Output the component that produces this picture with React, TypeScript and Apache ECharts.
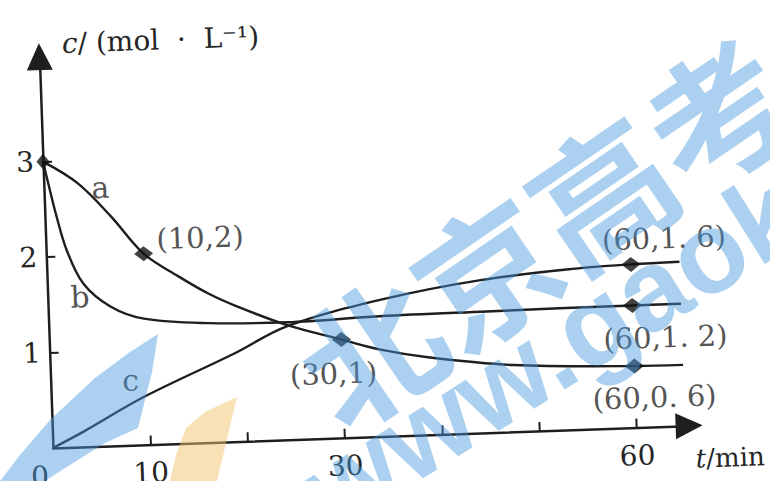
import React, { useEffect, useRef } from "react";
import * as echarts from "echarts";

// ---- data (t in min, c in mol/L) ----
const curveNames = ["a", "b", "c"];
const curveA = [[0, 3], [3.5, 2.76], [6.8, 2.4], [10, 2.0], [13.5, 1.75], [16.5, 1.56], [19.5, 1.41], [24.5, 1.2], [30, 1.03], [34, 0.91], [39, 0.81], [47.6, 0.7], [60, 0.645], [65, 0.64]];
const curveB = [[0, 3], [0.5, 2.75], [1.2, 2.42], [2.1, 2.07], [3.7, 1.71], [6.4, 1.46], [9.8, 1.32], [16.4, 1.25], [24.5, 1.23], [34, 1.26], [45, 1.27], [60, 1.28], [65, 1.28]];
const curveC = [[0, 0], [3.2, 0.16], [9.5, 0.5], [18.9, 0.92], [24.5, 1.19], [34.1, 1.43], [44.5, 1.6], [54.8, 1.69], [60, 1.71], [65, 1.72]];
const curves = [curveA, curveB, curveC];

const markerT = [0, 10, 30, 60, 60, 60];
const markerCurve = [0, 0, 0, 2, 1, 0];
const markerText = ["", "(10,2)", "(30,1)", "(60,1. 6)", "(60,1. 2)", "(60,0. 6)"];

const curveNameAt = [[5.8, 2.71], [3.3, 1.57], [8.2, 0.68]];

const xTicks = [10, 20, 30, 40, 50, 60];
const xLabels = [0, 10, 30, 60];
const yTicks = [1, 2, 3];
const yLabels = [1, 2, 3];
const xMax = 65.4;
const yMax = 4.1;

// ---- styles ----
const FONT = "'DejaVu Serif', 'Liberation Serif', serif";
const INK = "#1e1e1e";
const TXT = "#262626";
const labelOffsets = [[0, 0], [57, -14], [-9, 34], [34, -25], [32, 33], [19, 32]];
const WM_BLUE = "rgba(70,152,222,0.45)";
const WM_ORANGE = "rgba(243,196,110,0.5)";

function lookup(ci: number, t: number): number {
  const p = curves[ci].find((q) => q[0] === t);
  return p ? p[1] : 0;
}

export default function App() {
  const chartRef = useRef<HTMLDivElement>(null);
  const overRef = useRef<HTMLDivElement>(null);

  useEffect(() => {
    if (!chartRef.current || !overRef.current) return;
    const chart = echarts.init(chartRef.current, undefined, { renderer: "svg" });
    const over = echarts.init(overRef.current, undefined, { renderer: "svg" });

    const originX = 53;
    const originY = 448;
    const gw = 636.5;
    const gh = 391.6;

    const lineSeries = curves.map((d, i) => ({
      type: "line",
      name: curveNames[i],
      data: d,
      smooth: 0.35,
      symbol: "none",
      lineStyle: { color: INK, width: 2.4 },
      z: 2,
    }));

    chart.setOption({
      animation: false,
      grid: { left: originX, top: originY - gh, width: gw, height: gh },
      xAxis: {
        type: "value",
        min: 0,
        max: xMax,
        interval: 10,
        splitLine: { show: false },
        axisLine: {
          show: true,
          symbol: ["none", "triangle"],
          symbolSize: [26, 27],
          lineStyle: { color: INK, width: 2.5 },
        },
        axisTick: { show: true, inside: true, length: 9, customValues: xTicks, lineStyle: { color: INK, width: 2 } },
        axisLabel: {
          customValues: xLabels,
          margin: 14,
          fontSize: 28,
          fontFamily: FONT,
          color: TXT,
          formatter: (v: number) => (v === 0 ? "{o|0}" : String(v)),
          rich: { o: { padding: [0, 28, 0, 0], fontSize: 28, fontFamily: FONT, color: TXT } },
        },
      },
      yAxis: {
        type: "value",
        min: 0,
        max: yMax,
        interval: 1,
        splitLine: { show: false },
        axisLine: {
          show: true,
          symbol: ["none", "triangle"],
          symbolSize: [26, 27],
          lineStyle: { color: INK, width: 2.5 },
        },
        axisTick: { show: true, inside: true, length: 9, customValues: yTicks, lineStyle: { color: INK, width: 2 } },
        axisLabel: { customValues: yLabels, margin: 9, fontSize: 28, fontFamily: FONT, color: TXT },
      },
      graphic: [
        {
          type: "text",
          x: originX + 23,
          y: originY - 404,
          style: {
            text: "{i|c}/ (mol  ·  L⁻¹)",
            fontSize: 28,
            fontFamily: FONT,
            fill: TXT,
            align: "left",
            verticalAlign: "middle",
            textAlign: "left",
            textVerticalAlign: "middle",
            rich: { i: { fontStyle: "italic", fontSize: 28, fontFamily: FONT, fill: TXT } },
          },
        },
        {
          type: "text",
          x: originX + 642,
          y: originY + 33,
          style: {
            text: "{i|t}/min",
            fontSize: 26,
            fontFamily: FONT,
            fill: TXT,
            align: "left",
            verticalAlign: "middle",
            textAlign: "left",
            textVerticalAlign: "middle",
            rich: { i: { fontStyle: "italic", fontSize: 26, fontFamily: FONT, fill: TXT } },
          },
        },
      ],
      series: [
        ...lineSeries,
        {
          type: "scatter",
          z: 5,
          symbol: "diamond",
          itemStyle: { color: "#111" },
          data: markerT.map((t, i) => ({
            value: [t, lookup(markerCurve[i], t)],
            symbolSize: i === 0 ? [13, 16] : [19, 15],
            label: {
              show: markerText[i] !== "",
              position: "inside",
              offset: labelOffsets[i],
              formatter: markerText[i],
              fontSize: 29,
              fontFamily: FONT,
              color: TXT,
            },
          })),
        },
        {
          type: "scatter",
          z: 5,
          symbolSize: 0,
          data: curveNameAt.map((p, i) => ({ value: p, name: curveNames[i] })),
          label: {
            show: true,
            position: "inside",
            formatter: (p: any) => p.name,
            fontSize: 30,
            fontFamily: FONT,
            color: TXT,
          },
        },
      ],
    });

    over.setOption({
      animation: false,
      graphic: [
        {
          type: "polygon",
          shape: { points: [[0, 481], [20, 455], [50, 420], [95, 378], [130, 352], [158, 334], [152, 372], [138, 428], [105, 443], [70, 465], [45, 481]] },
          style: { fill: WM_BLUE },
        },
        {
          type: "polygon",
          shape: { points: [[237, 397], [205, 412], [186, 428], [176, 455], [170, 481], [217, 481]] },
          style: { fill: WM_ORANGE },
        },
        {
          type: "text",
          x: 541,
          y: 228,
          rotation: 0.6,
          style: {
            text: "北京高考",
            fontSize: 140,
            fontWeight: "bold",
            fontFamily: "'Noto Sans CJK SC', sans-serif",
            fill: WM_BLUE,
            align: "center",
            verticalAlign: "middle",
            textAlign: "center",
            textVerticalAlign: "middle",
          },
        },
        {
          type: "text",
          x: 313,
          y: 500,
          rotation: 0.56,
          style: {
            text: "www.gaokao.com",
            fontSize: 115,
            fontWeight: "bold",
            fontFamily: "'Liberation Sans', 'Noto Sans', sans-serif",
            fill: WM_BLUE,
            align: "left",
            verticalAlign: "middle",
            textAlign: "left",
            textVerticalAlign: "middle",
          },
        },
      ],
    });

    return () => {
      chart.dispose();
      over.dispose();
    };
  }, []);

  return (
    <div style={{ position: "fixed", left: 0, top: 0, width: 770, height: 481, overflow: "hidden", background: "#fff" }}>
      <div
        ref={chartRef}
        style={{
          position: "absolute",
          left: 0,
          top: 0,
          width: 800,
          height: 530,
          transform: "rotate(-2deg)",
          transformOrigin: "53px 448px",
        }}
      />
      <div ref={overRef} style={{ position: "absolute", left: 0, top: 0, width: 770, height: 481, pointerEvents: "none" }} />
    </div>
  );
}
